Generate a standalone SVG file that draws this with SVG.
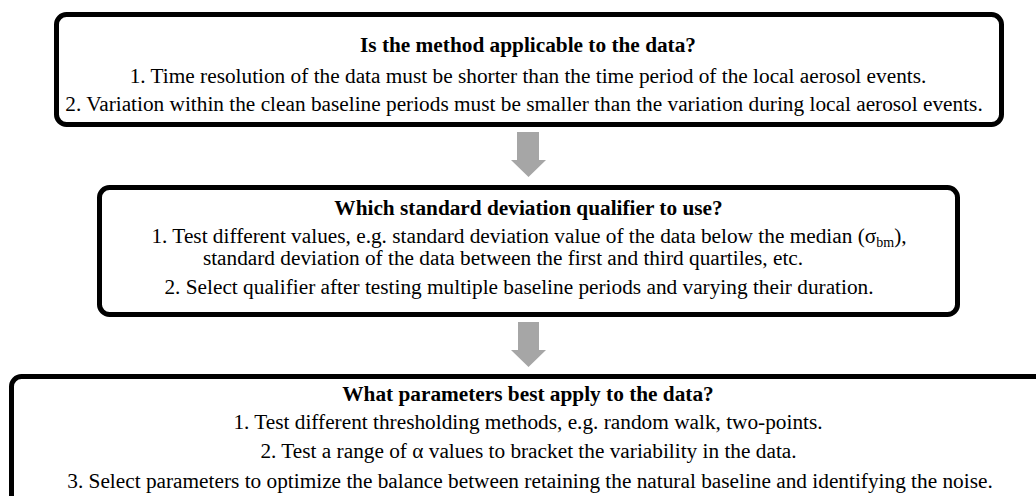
<svg xmlns="http://www.w3.org/2000/svg" width="1036" height="496" viewBox="0 0 1036 496">
<style>
.box{fill:#fff;stroke:#000;stroke-width:5}
.t{font-family:"Liberation Serif","Times New Roman",serif;font-size:21.3px;fill:#000;text-anchor:middle}
.b{font-weight:bold}
.arr{fill:#a6a6a6;stroke:none}
</style>
<rect width="1036" height="496" fill="#fff"/>
<g id="node1">
<rect class="box" x="56.5" y="14.5" width="945" height="110" rx="10"/>
<text class="t b" x="528" y="52">Is the method applicable to the data?</text>
<text class="t" x="528" y="83">1. Time resolution of the data must be shorter than the time period of the local aerosol events.</text>
<text class="t" x="524" y="111">2. Variation within the clean baseline periods must be smaller than the variation during local aerosol events.</text>
</g>
<g id="node2">
<rect class="box" x="99.5" y="187.5" width="858" height="127" rx="10"/>
<text class="t b" x="528.5" y="215">Which standard deviation qualifier to use?</text>
<text class="t" x="529" y="243">1. Test different values, e.g. standard deviation value of the data below the median (σ<tspan font-size="14" dy="4">bm</tspan><tspan dy="-4">),</tspan></text>
<text class="t" x="503" y="265">standard deviation of the data between the first and third quartiles, etc.</text>
<text class="t" x="519" y="294">2. Select qualifier after testing multiple baseline periods and varying their duration.</text>
</g>
<g id="node3">
<rect class="box" x="11.5" y="376.5" width="1035" height="140" rx="10"/>
<text class="t b" x="528" y="401">What parameters best apply to the data?</text>
<text class="t" x="528" y="429">1. Test different thresholding methods, e.g. random walk, two-points.</text>
<text class="t" x="528.5" y="458">2. Test a range of α values to bracket the variability in the data.</text>
<text class="t" x="530" y="488">3. Select parameters to optimize the balance between retaining the natural baseline and identifying the noise.</text>
</g>
<g id="connectors">
<polygon class="arr" points="517,132 539,132 539,160 546,160 528.5,177 511,160 517,160"/>
<polygon class="arr" points="518,322 539,322 539,350 546,350 528.5,367 511,350 518,350"/>
</g>
</svg>
